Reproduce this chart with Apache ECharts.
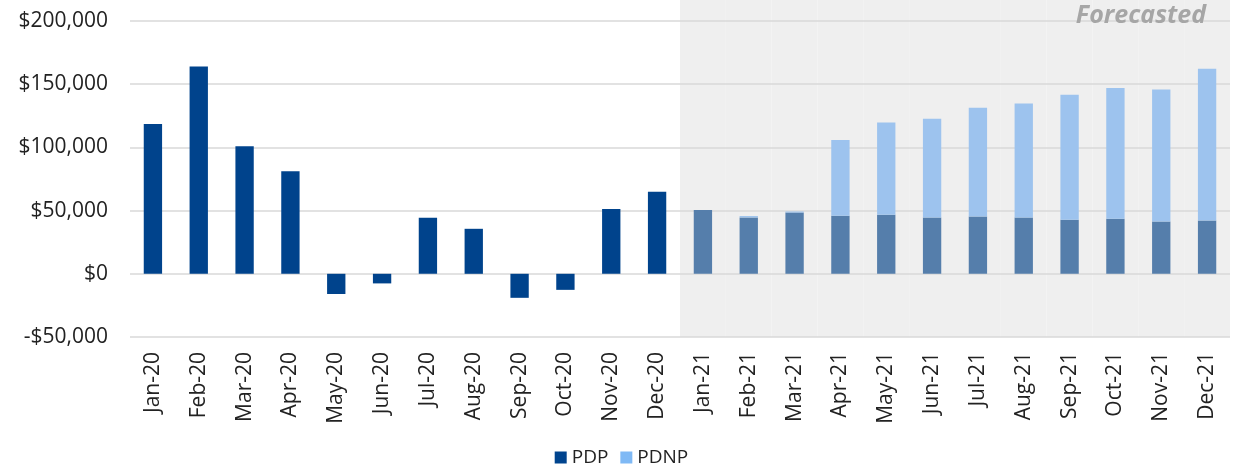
<!DOCTYPE html>
<html>
<head>
<meta charset="utf-8">
<script src="https://cdn.jsdelivr.net/npm/echarts@6/dist/echarts.min.js"></script>
<style>
  html, body { margin: 0; padding: 0; background: #fff; }
  #chart { width: 1243px; height: 472px; }
</style>
</head>
<body>
<div id="chart"></div>
<script>
var months = ['Jan-20', 'Feb-20', 'Mar-20', 'Apr-20', 'May-20', 'Jun-20', 'Jul-20', 'Aug-20', 'Sep-20', 'Oct-20', 'Nov-20', 'Dec-20',
    'Jan-21', 'Feb-21', 'Mar-21', 'Apr-21', 'May-21', 'Jun-21', 'Jul-21', 'Aug-21', 'Sep-21', 'Oct-21', 'Nov-21', 'Dec-21'];
var pdp = [118500, 164000, 101000, 81200, -16000, -7600, 44300, 35600, -19000, -12700, 51200, 64900,
    50400, 44600, 48500, 45900, 46700, 44600, 45400, 44600, 42700, 43500, 41400, 42200];
var pdnp = [null, null, null, null, null, null, null, null, null, null, null, null,
    null, 1100, 800, 59900, 73000, 78000, 85900, 90200, 98900, 103400, 104400, 120000];
var yTicks = [-50000, 0, 50000, 100000, 150000, 200000];
var forecastFrom = 12; // first forecasted month (Jan-21)

var chart = echarts.init(document.getElementById('chart'));

var font = '"Open Sans", sans-serif';

function money(v) {
    var s = '$' + Math.abs(v).toLocaleString('en-US');
    return v < 0 ? '-' + s : s;
}

var pdpData = pdp.map(function (v, i) {
    return { value: v, itemStyle: { color: i >= forecastFrom ? '#557EAB' : '#00438C' } };
});
var pdnpData = pdnp.map(function (v) {
    return { value: v, itemStyle: { color: '#9DC3EE' } };
});
// grey band behind the forecast months, reaching a little above the plot top
var shadeData = months.map(function (m, i) {
    return i >= forecastFrom ? 1.067 : null;
});

option = {
    backgroundColor: '#fff',
    animation: false,
    title: {
        text: 'Forecasted',
        right: 32,
        top: -2,
        textStyle: {
            fontFamily: font,
            fontStyle: 'italic',
            fontWeight: 'bold',
            fontSize: 25,
            color: '#A6A6A6'
        }
    },
    grid: {
        left: 130,
        right: 13,
        top: 21,
        bottom: 135
    },
    legend: {
        data: ['PDP', 'PDNP'],
        bottom: 0,
        left: 'center',
        icon: 'rect',
        itemWidth: 12,
        itemHeight: 12,
        itemGap: 12,
        textStyle: {
            fontFamily: font,
            fontSize: 19,
            color: '#222'
        }
    },
    xAxis: [{
        type: 'category',
        data: months,
        axisLine: { show: false },
        axisTick: { show: false },
        axisLabel: {
            rotate: 90,
            margin: 15,
            interval: 0,
            fontFamily: font,
            fontSize: 21,
            color: '#222'
        }
    }, {
        type: 'category',
        data: months,
        show: false
    }],
    yAxis: [{
        type: 'value',
        min: yTicks[0],
        max: yTicks[yTicks.length - 1],
        interval: 50000,
        axisLine: { show: false },
        axisTick: { show: false },
        axisLabel: {
            formatter: money,
            margin: 22,
            fontFamily: font,
            fontSize: 21,
            color: '#222'
        },
        splitLine: {
            show: true,
            lineStyle: { color: '#D9D9D9', width: 1.5 }
        }
    }, {
        type: 'value',
        min: 0,
        max: 1,
        show: false
    }],
    series: [{
        name: 'shade',
        type: 'bar',
        xAxisIndex: 1,
        yAxisIndex: 1,
        barWidth: '100%',
        clip: false,
        silent: true,
        z: -1,
        itemStyle: { color: '#EFEFEF' },
        data: shadeData
    }, {
        name: 'PDP',
        type: 'bar',
        stack: 'total',
        barWidth: '40%',
        itemStyle: { color: '#00448E' },
        data: pdpData
    }, {
        name: 'PDNP',
        type: 'bar',
        stack: 'total',
        barWidth: '40%',
        itemStyle: { color: '#7FB9F5' },
        data: pdnpData
    }]
};

chart.setOption(option);

window.onresize = function () {
    chart.resize();
}
</script>
</body>
</html>
